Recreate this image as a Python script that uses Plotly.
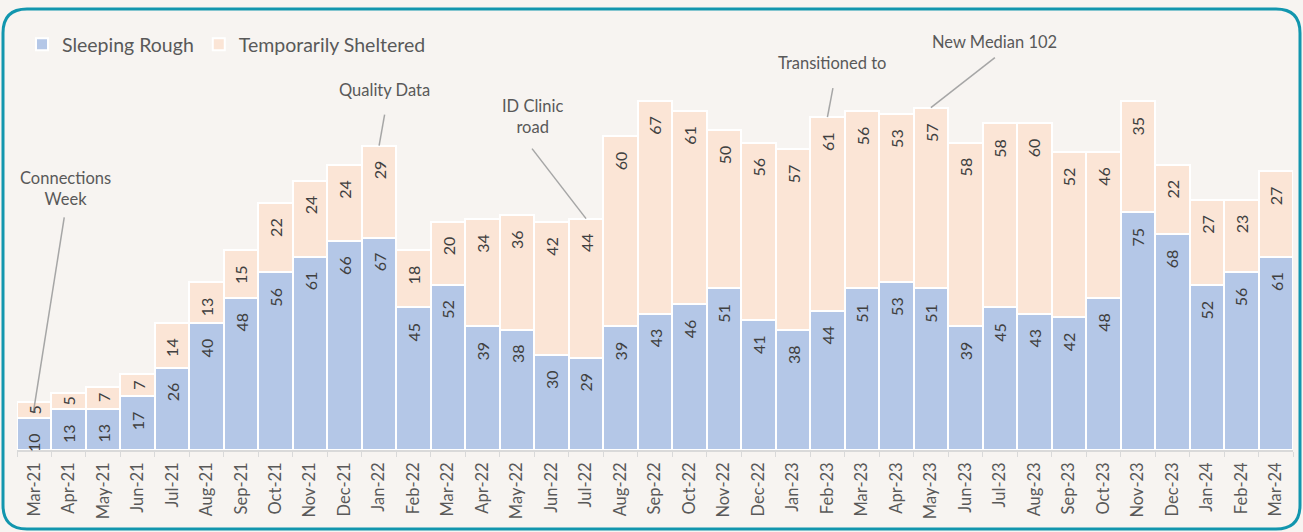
import plotly.graph_objects as go

months = ["Mar-21","Apr-21","May-21","Jun-21","Jul-21","Aug-21","Sep-21","Oct-21","Nov-21","Dec-21",
          "Jan-22","Feb-22","Mar-22","Apr-22","May-22","Jun-22","Jul-22","Aug-22","Sep-22","Oct-22",
          "Nov-22","Dec-22","Jan-23","Feb-23","Mar-23","Apr-23","May-23","Jun-23","Jul-23","Aug-23",
          "Sep-23","Oct-23","Nov-23","Dec-23","Jan-24","Feb-24","Mar-24"]
sleeping_rough = [10,13,13,17,26,40,48,56,61,66,67,45,52,39,38,30,29,39,43,46,51,41,38,44,51,53,51,39,45,43,42,48,75,68,52,56,61]
temp_sheltered = [5,5,7,7,14,13,15,22,24,24,29,18,20,34,36,42,44,60,67,61,50,56,57,61,56,53,57,58,58,60,52,46,35,22,27,23,27]

callout_texts = ["Connections<br>Week", "Quality Data", "ID Clinic<br>road", "Transitioned to", "New Median 102"]
callout_months = ["Mar-21", "Jan-22", "Jul-22", "Feb-23", "May-23"]

# layout geometry (pixels)
W, H = 1303, 532
ML, MR, MT, MB = 17, 10, 20, 82
PW, PH = W - ML - MR, H - MT - MB
PPU = 3.17                      # pixels per unit
YMAX = PH / PPU
PPC = PW / len(months)          # pixels per category

BLUE = "#b4c7e7"
PEACH = "#fbe5d6"
BG = "#f7f4f1"
TEAL = "#1296ae"
TXT = "#404040"
GREY = "#595959"
FONT = "Lato"

fig = go.Figure()
fig.add_bar(x=months, y=sleeping_rough, name="Sleeping Rough", marker=dict(color=BLUE, line=dict(color="white", width=2)))
fig.add_bar(x=months, y=temp_sheltered, name="Temporarily Sheltered", marker=dict(color=PEACH, line=dict(color="white", width=2)))

annotations = []
# value labels (inside end, or centred if they do not fit)
for series, base_list in ((sleeping_rough, [0]*len(months)), (temp_sheltered, sleeping_rough)):
    for i, (m, v) in enumerate(zip(months, series)):
        b = base_list[i]
        t = b + v
        hpx = v * PPU
        tlen = 8 * len(str(v))
        if 15 + tlen <= hpx:
            annotations.append(dict(x=m, y=t, yanchor="top", yshift=-13, text=str(v), textangle=-90,
                                    showarrow=False, font=dict(family=FONT, size=16, color=TXT)))
        else:
            annotations.append(dict(x=m, y=(b + t) / 2, yanchor="middle", text=str(v), textangle=-90,
                                    showarrow=False, font=dict(family=FONT, size=16, color=TXT)))

# callouts: (end dx, end dy, start dx, start dy, text dx, text dy) in pixels relative to bar top
callout_geom = [(-1, 10.6, 30, -185, 31, -214),
                (0, 0, 5.5, -31, 5.5, -56),
                (0, 0, -54, -70, -54, -102),
                (0, 0, 5.5, -29, 4.5, -54),
                (0, 0, 64, -50, 64, -65.6)]
shapes = []
totals = [a + b for a, b in zip(sleeping_rough, temp_sheltered)]
for txt, m, g in zip(callout_texts, callout_months, callout_geom):
    i = months.index(m)
    tot = totals[i]
    ex, ey, sx, sy, tx, ty = g
    shapes.append(dict(type="line", xref="x", yref="y",
                       x0=i + ex / PPC, y0=tot - ey / PPU, x1=i + sx / PPC, y1=tot - sy / PPU,
                       line=dict(color="#a6a6a6", width=1.5)))
    annotations.append(dict(x=m, y=tot, xshift=tx, yshift=-ty, text=txt, showarrow=False,
                            xanchor="center", yanchor="middle",
                            font=dict(family=FONT, size=16.5, color=GREY)))

# rounded border in paper coordinates
def P(px, py):
    a, b = (px - ML) / PW, (MT + PH - py) / PH
    return f"{a:.5f},{b:.5f}"

x0p, y0p, x1p, y1p, r = 3, 9, 1300, 529, 24
path = (f"M {P(x0p + r, y0p)} L {P(x1p - r, y0p)} Q {P(x1p, y0p)} {P(x1p, y0p + r)} "
        f"L {P(x1p, y1p - r)} Q {P(x1p, y1p)} {P(x1p - r, y1p)} "
        f"L {P(x0p + r, y1p)} Q {P(x0p, y1p)} {P(x0p, y1p - r)} "
        f"L {P(x0p, y0p + r)} Q {P(x0p, y0p)} {P(x0p + r, y0p)} Z")
shapes.append(dict(type="path", xref="paper", yref="paper", path=path,
                   line=dict(color=TEAL, width=3), layer="above"))

fig.update_layout(
    width=W, height=H,
    margin=dict(l=ML, r=MR, t=MT, b=MB),
    barmode="stack", bargap=0,
    paper_bgcolor=BG, plot_bgcolor=BG,
    font=dict(family=FONT, color=GREY),
    showlegend=True,
    legend=dict(orientation="h", x=(22 - ML) / PW, xanchor="left", y=(MT + PH - 25) / PH, yanchor="top",
                font=dict(family=FONT, size=19.5, color=GREY), bgcolor="rgba(0,0,0,0)",
                itemwidth=30, traceorder="normal"),
    xaxis=dict(type="category", tickangle=-90, showline=True, linecolor="#d9d9d9", linewidth=1.5,
               ticks="outside", tickson="boundaries", ticklen=5, tickcolor="#d9d9d9",
               ticklabelstandoff=4,
               tickfont=dict(family=FONT, size=16.5, color=GREY), showgrid=False, fixedrange=True),
    yaxis=dict(range=[0, YMAX], visible=False, showgrid=False),
    annotations=annotations,
    shapes=shapes,
)

fig.write_html("out.html", config={"displayModeBar": False},
               post_script="document.body.style.margin='0';document.body.style.background='" + BG + "';")
